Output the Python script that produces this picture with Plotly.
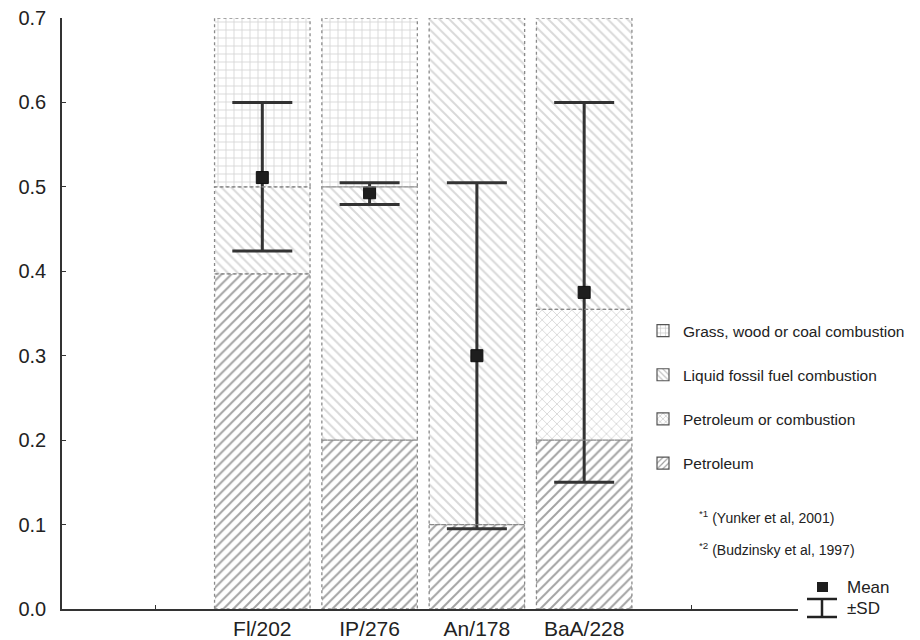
import plotly.graph_objects as go

# ---------------- data ----------------
categories = ["Fl/202", "IP/276", "An/178", "BaA/228"]
positions = [1, 2, 3, 4]

# stacked source-range segment heights (bottom -> top)
seg_petroleum = [0.397, 0.20, 0.10, 0.20]
seg_petro_or_comb = [0.0, 0.0, 0.0, 0.155]
seg_liquid = [0.103, 0.30, 0.60, 0.345]
seg_grass = [0.20, 0.20, 0.0, 0.0]

means = [0.511, 0.493, 0.300, 0.375]
sd_high = [0.600, 0.505, 0.505, 0.600]
sd_low = [0.424, 0.479, 0.095, 0.150]

y_ticks = [0, 0.1, 0.2, 0.3, 0.4, 0.5, 0.6, 0.7]

legend_names = ["Petroleum", "Petroleum or combustion",
                "Liquid fossil fuel combustion", "Grass, wood or coal combustion"]
legend_ranks = [4, 3, 2, 1]
footnotes = ["<sup>*1</sup> (Yunker et al, 2001)", "<sup>*2</sup> (Budzinsky et al, 1997)"]

# ---------------- figure ----------------
OFF = 8                      # default page body margin
W, H = 920 - OFF, 640 - OFF
ML, MT = 62 - OFF, 18 - OFF
MR = W - (798 - OFF)
MB = H - (609 - OFF)
PW, PH = W - ML - MR, H - MT - MB


def px(x):
    return (x - OFF - ML) / PW


def py(y):
    return (H - MB - (y - OFF)) / PH


BAR_W = 0.89
FONT = "Liberation Sans, Arial, sans-serif"

segments = [seg_petroleum, seg_petro_or_comb, seg_liquid, seg_grass]
patterns = [
    dict(shape="/", fgcolor="#484848", bgcolor="white", size=7, solidity=0.28),
    dict(shape="x", fgcolor="#a8a8a8", bgcolor="white", size=7, solidity=0.22),
    dict(shape="\\", fgcolor="#b4b4b4", bgcolor="white", size=7, solidity=0.28),
    dict(shape="+", fgcolor="#aaaaaa", bgcolor="white", size=8, solidity=0.2),
]

fig = go.Figure()
for seg, pat, name in zip(segments, patterns, legend_names):
    fig.add_trace(go.Bar(
        x=positions, y=seg, width=BAR_W, name=name, showlegend=False,
        marker=dict(color="white", pattern=pat, line=dict(width=0)),
        hoverinfo="skip",
    ))

# legend-only entries (bordered swatches)
legend_patterns = [
    dict(shape="/", fgcolor="#444", bgcolor="white", size=5, solidity=0.3),
    dict(shape="x", fgcolor="#888", bgcolor="white", size=5, solidity=0.3),
    dict(shape="\\", fgcolor="#888", bgcolor="white", size=5, solidity=0.3),
    dict(shape="+", fgcolor="#888", bgcolor="white", size=6, solidity=0.25),
]
for pat, name, rank in zip(legend_patterns, legend_names, legend_ranks):
    fig.add_trace(go.Bar(
        x=[None], y=[None], name=name, legendgroup=name, legendrank=rank,
        marker=dict(color="white", pattern=pat, line=dict(width=1.2, color="#555")),
        hoverinfo="skip",
    ))

# dotted outlines of each stacked segment, computed from the data
for j, xpos in enumerate(positions):
    base = 0.0
    for seg in segments:
        h = seg[j]
        if h > 0:
            fig.add_shape(type="rect", xref="x", yref="y",
                          x0=xpos - BAR_W / 2, x1=xpos + BAR_W / 2,
                          y0=base, y1=base + h,
                          line=dict(color="#8a8a8a", width=1.3, dash="dot"),
                          fillcolor="rgba(0,0,0,0)", layer="above")
        base += h

# mean +- SD
fig.add_trace(go.Scatter(
    x=positions, y=means, mode="markers", showlegend=False,
    marker=dict(symbol="square", size=12, color="#1e1e1e",
                line=dict(color="#111", width=1)),
    error_y=dict(type="data", symmetric=False,
                 array=[h - m for h, m in zip(sd_high, means)],
                 arrayminus=[m - l for m, l in zip(means, sd_low)],
                 color="#333333", thickness=3, width=30),
    hoverinfo="skip",
))

fig.update_layout(
    width=W, height=H,
    margin=dict(l=ML, r=MR, t=MT, b=MB, autoexpand=False),
    paper_bgcolor="white", plot_bgcolor="white",
    barmode="stack", bargap=0,
    font=dict(family=FONT, color="#222"),
    showlegend=True,
    legend=dict(x=px(643), y=py(314), xanchor="left", yanchor="top",
                traceorder="grouped", tracegroupgap=21,
                font=dict(size=15.5, color="#222"),
                bgcolor="rgba(0,0,0,0)", itemwidth=30),
    xaxis=dict(range=[-0.867, 5.993], tickvals=positions, ticktext=categories,
               ticks="", showline=True, linecolor="#333", linewidth=1.5,
               showgrid=False, zeroline=False, automargin=False,
               ticklabeloverflow="allow",
               tickfont=dict(size=21, color="#222"),
               minor=dict(tickvals=[0, 5], ticks="inside", ticklen=4,
                          tickcolor="#333", showgrid=False)),
    yaxis=dict(range=[0, 0.7], tickvals=y_ticks,
               tickformat=".1f", ticks="inside", ticklen=4, tickcolor="#333",
               ticklabelstandoff=10, automargin=False,
               ticklabeloverflow="allow",
               showline=True, linecolor="#333", linewidth=1.5,
               showgrid=False, zeroline=False,
               tickfont=dict(size=20, color="#222")),
)

# footnotes
for txt, yy in zip(footnotes, [517, 549]):
    fig.add_annotation(text=txt, xref="paper", yref="paper", x=px(697), y=py(yy),
                       xanchor="left", yanchor="middle", showarrow=False,
                       font=dict(size=14, color="#222"))

# Mean / ±SD key
fig.add_shape(type="rect", xref="paper", yref="paper",
              x0=px(817), x1=px(828), y0=py(592), y1=py(582),
              fillcolor="#1e1e1e", line=dict(width=0))
for (x0, y0, x1, y1) in [(807, 599, 837, 599), (807, 617, 837, 617), (822, 599, 822, 617)]:
    fig.add_shape(type="line", xref="paper", yref="paper",
                  x0=px(x0), y0=py(y0), x1=px(x1), y1=py(y1),
                  line=dict(color="#222", width=2.5))
fig.add_annotation(text="Mean", xref="paper", yref="paper", x=px(845), y=py(587),
                   xanchor="left", yanchor="middle", showarrow=False,
                   font=dict(size=17, color="#222"))
fig.add_annotation(text="±SD", xref="paper", yref="paper", x=px(845), y=py(608),
                   xanchor="left", yanchor="middle", showarrow=False,
                   font=dict(size=17, color="#222"))

fig.write_html("out.html")
